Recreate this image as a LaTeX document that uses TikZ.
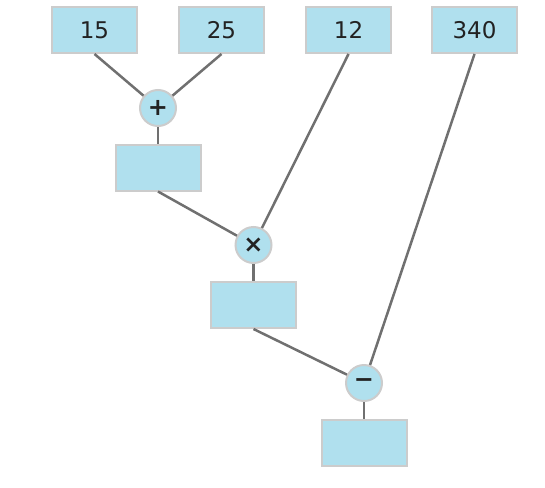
\documentclass[tikz,border=0pt]{standalone}
\usepackage{fontspec}
\setmainfont{DejaVu Sans}
\definecolor{boxfill}{HTML}{B0E0EE}
\definecolor{boxline}{HTML}{CCCCCC}
\definecolor{wire}{HTML}{707070}
\definecolor{txt}{HTML}{222222}
\tikzset{
  valbox/.style={draw=boxline, line width=2pt, fill=boxfill, minimum width=85pt, minimum height=46pt, inner sep=0pt, text=txt, font=\fontsize{23}{23}\selectfont},
  opnode/.style={circle, draw=boxline, line width=2pt, fill=boxfill, minimum size=36pt, inner sep=0pt, text=txt, font=\fontsize{24}{24}\selectfont\bfseries},
  link/.style={draw=wire, line width=2.5pt}
}
\begin{document}
\begin{tikzpicture}[x=1pt,y=-1pt]
\useasboundingbox (0,0) rectangle (545,487);
\node[valbox] (a) at (94.5,30) {15};
\node[valbox] (b) at (221.5,30) {25};
\node[valbox] (c) at (348.5,30) {12};
\node[valbox] (d) at (474.5,30) {340};
\node[opnode] (plus) at (158,108) {+};
\node[valbox] (r1) at (158,167.5) {};
\node[opnode] (times) at (253.5,245) {×};
\node[valbox] (r2) at (253.5,305) {};
\node[opnode] (minus) at (364,383) {\raisebox{-2.5pt}{−}};
\node[valbox] (r3) at (364,443) {};
\draw[link] (a.south) -- (plus);
\draw[link] (b.south) -- (plus);
\draw[link] (plus) -- (r1.north);
\draw[link] (r1.south) -- (times);
\draw[link] (c.south) -- (times);
\draw[link] (times) -- (r2.north);
\draw[link] (r2.south) -- (minus);
\draw[link] (d.south) -- (minus);
\draw[link] (minus) -- (r3.north);
\end{tikzpicture}
\end{document}
